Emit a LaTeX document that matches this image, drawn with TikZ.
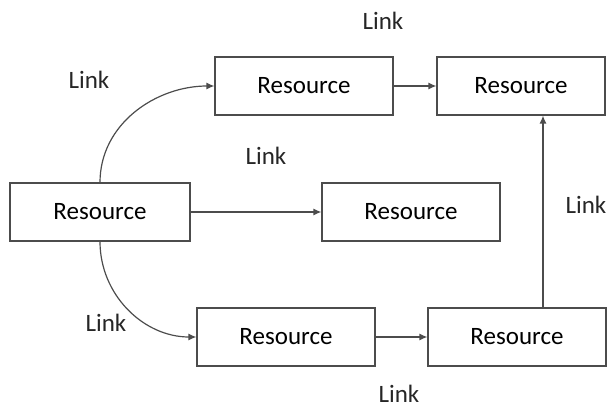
\documentclass[tikz,border=0pt]{standalone}
\usepackage{fontspec}
\setmainfont{Carlito}
\usetikzlibrary{arrows.meta}
\usetikzlibrary{calc}

\begin{document}
\begin{tikzpicture}[x=1pt,y=-1pt,
    res/.style={draw=black!70,line width=1.2pt,rectangle,minimum width=178pt,minimum height=58pt,font=\fontsize{25}{30}\selectfont},
    lnk/.style={text=black!85,inner sep=1pt,font=\fontsize{25}{30}\selectfont},
    conn/.style={draw=black!70,line width=1.2pt,-{Latex[length=8pt,width=7pt]}}]
      \useasboundingbox (0,0) rectangle (610,409);

      \node[res,minimum width=180pt] (src) at (100,212) {Resource};
      \node[res] (top) at (304,86) {Resource};
      \node[res,minimum width=168pt] (topright) at (521,86) {Resource};
      \node[res] (mid) at (411,212) {Resource};
      \node[res] (bot) at (286,337) {Resource};
      \node[res] (botright) at (517,337) {Resource};

      \node[lnk] (ltop) at (383,21) {Link};
      \node[lnk] (lup) at (89,80) {Link};
      \node[lnk] (lmid) at (266,156) {Link};
      \node[lnk] (lright) at (586,205) {Link};
      \node[lnk] (ldown) at (106,323) {Link};
      \node[lnk] (lbot) at (399,394) {Link};

      \coordinate (up) at ([xshift=26pt]botright.north);

      \draw[conn] (src.north) to[out=90,in=180] (top.west);
      \draw[conn] (src.south) to[out=-90,in=180] (bot.west);
      \draw[conn] (src) -- (mid);
      \draw[conn] (top) -- (topright);
      \draw[conn] (bot) -- (botright);
      \draw[conn] (up) -- (up |- topright.south);
    \end{tikzpicture}
\end{document}
